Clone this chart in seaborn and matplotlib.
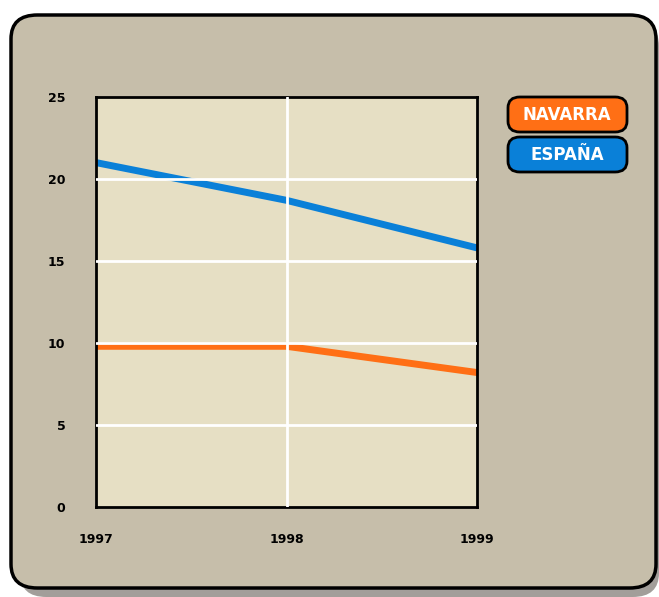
import seaborn as sns
import pandas as pd
import matplotlib.pyplot as plt
from matplotlib.patches import FancyBboxPatch

# Data
years = ['1997', '1998', '1999']
navarra = [9.8, 9.8, 8.2]
espana = [21.0, 18.7, 15.8]
series_names = ['NAVARRA', 'ESPAÑA']
colors = {'NAVARRA': '#ff6f15', 'ESPAÑA': '#0a80d8'}

data = pd.DataFrame({
    'year': years * 2,
    'value': navarra + espana,
    'serie': [series_names[0]] * 3 + [series_names[1]] * 3,
})

sns.set_style('white')
plt.rcParams['font.family'] = ['DejaVu Sans']

fig = plt.figure(figsize=(6.59, 5.97), dpi=100)
fig.patch.set_facecolor('white')

# Rounded panel with shadow
shadow = FancyBboxPatch((20 / 659, 0 / 597), 639 / 659, 575 / 597,
                        boxstyle='round,pad=0,rounding_size=0.04',
                        transform=fig.transFigure, facecolor='#a29e9a',
                        edgecolor='none', zorder=0)
panel = FancyBboxPatch((11 / 659, 9 / 597), 645 / 659, 573 / 597,
                       boxstyle='round,pad=0,rounding_size=0.04',
                       transform=fig.transFigure, facecolor='#c6beaa',
                       edgecolor='black', linewidth=2.5, zorder=1)
fig.patches.extend([shadow, panel])

ax = fig.add_axes([96 / 659, 1 - 507 / 597, 381 / 659, 410 / 597])
ax.set_zorder(2)
ax.set_facecolor('#e6dfc4')

sns.lineplot(data=data, x='year', y='value', hue='serie', palette=colors,
             linewidth=5, ax=ax, legend=False, sort=False)

ax.set_ylim(0, 25)
ax.set_xlim(0, 2)
ax.set_yticks([0, 5, 10, 15, 20, 25])
ax.set_xlabel('')
ax.set_ylabel('')

# white grid lines (only interior ones)
for v in [5, 10, 15, 20]:
    ax.axhline(v, color='white', linewidth=2, zorder=3)
ax.axvline(1, color='white', linewidth=2, zorder=3)
for line in ax.lines[:2]:
    line.set_zorder(2.5)

ax.tick_params(axis='y', length=14, width=2, color='white', pad=8,
               labelsize=9, labelcolor='black')
ax.tick_params(axis='x', length=8, width=2, color='white', pad=11,
               labelsize=9, labelcolor='black')
for lbl in ax.get_xticklabels() + ax.get_yticklabels():
    lbl.set_fontweight('bold')
for s in ax.spines.values():
    s.set_linewidth(2)
    s.set_color('black')

# legend as rounded labels
for i, name in enumerate(series_names):
    top = 97 + 40 * i
    box = FancyBboxPatch((508 / 659, 1 - (top + 35) / 597), 119 / 659, 35 / 597,
                         boxstyle='round,pad=0,rounding_size=0.018',
                         transform=fig.transFigure, facecolor=colors[name],
                         edgecolor='black', linewidth=2, zorder=4)
    fig.patches.append(box)
    fig.text(567 / 659, 1 - (top + 18) / 597, name, ha='center', va='center',
             color='white', fontsize=12, fontweight='bold', zorder=5)

fig.savefig('out.png', dpi=100)
